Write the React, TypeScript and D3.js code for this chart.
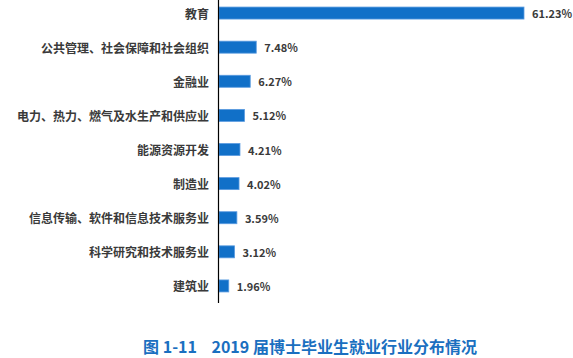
import React from "react";
import * as d3 from "d3";

const categories = [
  "教育",
  "公共管理、社会保障和社会组织",
  "金融业",
  "电力、热力、燃气及水生产和供应业",
  "能源资源开发",
  "制造业",
  "信息传输、软件和信息技术服务业",
  "科学研究和技术服务业",
  "建筑业",
];
const values = [61.23, 7.48, 6.27, 5.12, 4.21, 4.02, 3.59, 3.12, 1.96];
const title = "图 1-11\u00a0\u00a0\u00a0\u00a02019 届博士毕业生就业行业分布情况";

const W = 573;
const H = 358;
const FONT = "'Noto Sans CJK SC', 'Noto Sans', sans-serif";

export default function App() {
  const x = d3.scaleLinear().domain([0, 61.23]).range([219, 524]);
  const y = d3.scaleBand<string>().domain(categories).range([-4, 303]).paddingInner(0.64).paddingOuter(0.32);
  const bh = 12;
  return (
    <svg width={W} height={H} style={{ position: "absolute", left: 0, top: 0, background: "#fff" }}>
      {categories.map((c, i) => {
        const cy = (y(c) as number) + y.bandwidth() / 2;
        return (
          <g key={c}>
            <rect x={x(0)} y={cy - bh / 2} width={x(values[i]) - x(0)} height={bh} fill="#1170C8" stroke="#5b9be0" strokeWidth={0.8} />
            <text x={209} y={cy} textAnchor="end" dominantBaseline="central" fontFamily={FONT} fontWeight={700} fontSize={12} fill="#3a3a3a">{c}</text>
            <text x={x(values[i]) + 8} y={cy} dominantBaseline="central" fontFamily={FONT} fontWeight={700} fontSize={11} fill="#3a3a3a">{values[i].toFixed(2)}%</text>
          </g>
        );
      })}
      <line x1={218.5} x2={218.5} y1={0} y2={303} stroke="#000" strokeWidth={1.2} />
      <text x={310} y={346} textAnchor="middle" dominantBaseline="central" fontFamily={FONT} fontWeight={700} fontSize={16} fill="#1a6fc0">{title}</text>
    </svg>
  );
}
